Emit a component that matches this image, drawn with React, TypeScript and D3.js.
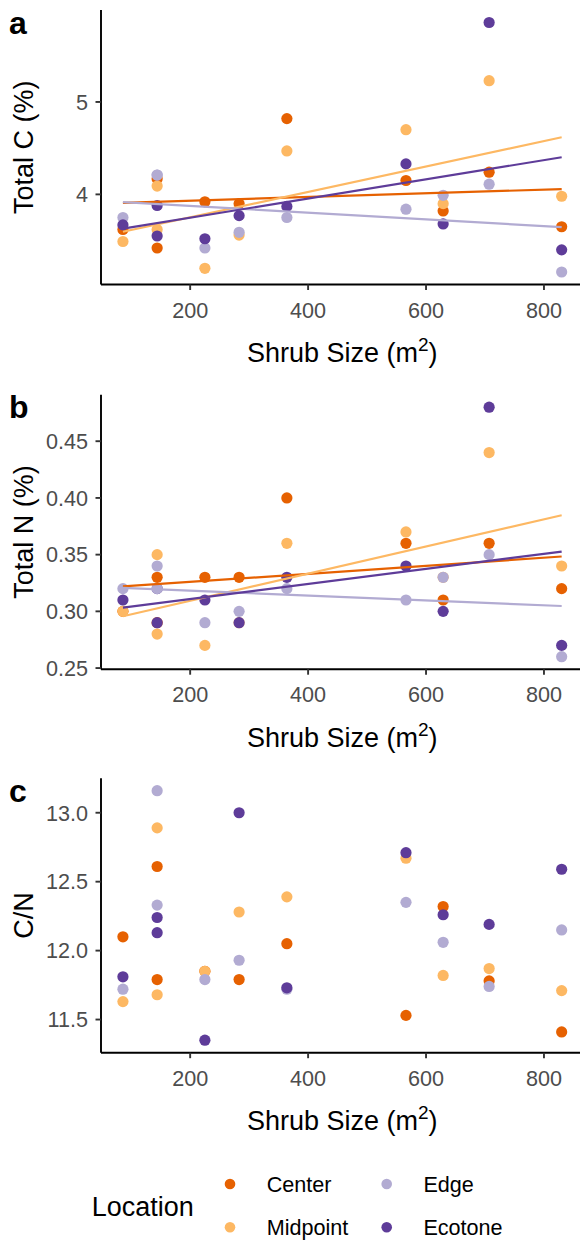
import React from 'react';
import * as d3 from 'd3';

// ---- data ----
const shrubSize = [86, 144, 144, 225, 283, 364, 566, 629, 707, 830];
const locations = ['Center', 'Midpoint', 'Edge', 'Ecotone'];
const locationColors = ['#E66101', '#FDB863', '#B2ABD2', '#5E3C99'];

const totalCCenter = [3.62, 4.17, 3.42, 3.92, 3.90, 4.82, 4.15, 3.82, 4.24, 3.65];
const totalCMidpoint = [3.49, 4.09, 3.62, 3.20, 3.56, 4.47, 4.70, 3.90, 5.23, 3.98];
const totalCEdge = [3.75, 4.21, 4.21, 3.42, 3.59, 3.75, 3.84, 3.99, 4.11, 3.16];
const totalCEcotone = [3.67, 3.88, 3.55, 3.52, 3.77, 3.87, 4.33, 3.68, 5.86, 3.40];

const totalNCenter = [0.30, 0.33, 0.29, 0.33, 0.33, 0.40, 0.36, 0.31, 0.36, 0.32];
const totalNMidpoint = [0.30, 0.35, 0.28, 0.27, 0.29, 0.36, 0.37, 0.33, 0.44, 0.34];
const totalNEdge = [0.32, 0.34, 0.32, 0.29, 0.30, 0.32, 0.31, 0.33, 0.35, 0.26];
const totalNEcotone = [0.31, 0.32, 0.29, 0.31, 0.29, 0.33, 0.34, 0.30, 0.48, 0.27];

const cnCenter = [12.10, 12.61, 11.79, 11.85, 11.79, 12.05, 11.53, 12.32, 11.78, 11.41];
const cnMidpoint = [11.63, 11.68, 12.89, 11.85, 12.28, 12.39, 12.67, 11.82, 11.87, 11.71];
const cnEdge = [11.72, 12.33, 13.16, 11.79, 11.93, 11.72, 12.35, 12.06, 11.74, 12.15];
const cnEcotone = [11.81, 12.13, 12.24, 11.35, 13.00, 11.73, 12.71, 12.26, 12.19, 12.59];

const xTicks = [200, 400, 600, 800];
const yTicksC = [4, 5];
const yTicksN = [0.25, 0.30, 0.35, 0.40, 0.45];
const yTicksCN = [11.5, 12.0, 12.5, 13.0];

// ---- layout ----
const W = 580;
const H = 1240;
const FONT = "'Liberation Sans', Arial, Helvetica, sans-serif";
const panelLeft = 101;
const panelRight = 583.6;
const panelH = 274.5;
const panelTops = [10, 394.7, 778.2];
const BASE = 27;
const SMALL = 21.6;
const TICK_COL = '#4D4D4D';

function expand(vals: number[]): [number, number] {
  const lo = d3.min(vals) as number;
  const hi = d3.max(vals) as number;
  const p = (hi - lo) * 0.05;
  return [lo - p, hi + p];
}

function linFit(xs: number[], ys: number[]) {
  const mx = d3.mean(xs) as number;
  const my = d3.mean(ys) as number;
  let sxy = 0, sxx = 0;
  xs.forEach((x, i) => { sxy += (x - mx) * (ys[i] - my); sxx += (x - mx) * (x - mx); });
  const b = sxy / sxx;
  return { a: my - b * mx, b };
}

const xScale = d3.scaleLinear().domain(expand(shrubSize)).range([panelLeft, panelRight]);

type PanelProps = {
  top: number;
  series: number[][];
  yTicks: number[];
  fmt: (v: number) => string;
  yTitle: string;
  tag: string;
  fit: boolean;
};

function Panel({ top, series, yTicks, fmt, yTitle, tag, fit }: PanelProps) {
  const bottom = top + panelH;
  const y = d3.scaleLinear().domain(expand(series.flat())).range([bottom, top]);
  const xMin = d3.min(shrubSize) as number;
  const xMax = d3.max(shrubSize) as number;
  const cx = (panelLeft + panelRight) / 2;
  return (
    <g>
      <text x={9} y={top + 23.5} fontSize={32} fontWeight="bold" fill="#000">{tag}</text>
      {shrubSize.map((sx, i) =>
        series.map((s, k) => (
          <circle key={`${i}-${k}`} cx={xScale(sx)} cy={y(s[i])} r={5.6} fill={locationColors[k]} />
        ))
      )}
      {fit && series.map((s, k) => {
        const f = linFit(shrubSize, s);
        const path = d3.line<number>().x((d) => xScale(d)).y((d) => y(f.a + f.b * d))([xMin, xMax]) || '';
        return <path key={`f${k}`} d={path} fill="none" stroke={locationColors[k]} strokeWidth={2.2} />;
      })}
      <line x1={panelLeft} x2={panelLeft} y1={top} y2={bottom} stroke="#000" strokeWidth={1.9} />
      <line x1={panelLeft} x2={panelRight} y1={bottom} y2={bottom} stroke="#000" strokeWidth={1.9} />
      {yTicks.map((t) => (
        <g key={`y${t}`}>
          <line x1={panelLeft - 5.5} x2={panelLeft} y1={y(t)} y2={y(t)} stroke="#333" strokeWidth={1.9} />
          <text x={panelLeft - 13} y={y(t)} dy="0.36em" textAnchor="end" fontSize={SMALL} fill={TICK_COL}>{fmt(t)}</text>
        </g>
      ))}
      {xTicks.map((t) => (
        <g key={`x${t}`}>
          <line x1={xScale(t)} x2={xScale(t)} y1={bottom} y2={bottom + 5.5} stroke="#333" strokeWidth={1.9} />
          <text x={xScale(t)} y={bottom + 33} textAnchor="middle" fontSize={SMALL} fill={TICK_COL}>{t}</text>
        </g>
      ))}
      <text x={cx} y={bottom + 77.5} textAnchor="middle" fontSize={BASE} fill="#000">
        Shrub Size (m<tspan fontSize={19} dy={-11}>2</tspan><tspan dy={11}>)</tspan>
      </text>
      <text transform={`translate(32.5,${top + panelH / 2}) rotate(-90)`} textAnchor="middle" fontSize={BASE} fill="#000">{yTitle}</text>
    </g>
  );
}

const legendCols = [230, 386.7];
const legendRows = [1184, 1227.3];

export default function App() {
  return (
    <svg width={W} height={H} viewBox={`0 0 ${W} ${H}`} style={{ position: 'absolute', left: 0, top: 0, background: '#fff' }} fontFamily={FONT}>
      <rect x={0} y={0} width={W} height={H} fill="#fff" />
      <Panel top={panelTops[0]} series={[totalCCenter, totalCMidpoint, totalCEdge, totalCEcotone]} yTicks={yTicksC} fmt={d3.format('d')} yTitle="Total C (%)" tag="a" fit={true} />
      <Panel top={panelTops[1]} series={[totalNCenter, totalNMidpoint, totalNEdge, totalNEcotone]} yTicks={yTicksN} fmt={d3.format('.2f')} yTitle="Total N (%)" tag="b" fit={true} />
      <Panel top={panelTops[2]} series={[cnCenter, cnMidpoint, cnEdge, cnEcotone]} yTicks={yTicksCN} fmt={d3.format('.1f')} yTitle="C/N" tag="c" fit={false} />
      <text x={91.7} y={1215.7} fontSize={BASE} fill="#000">Location</text>
      {locations.map((loc, k) => {
        const col = Math.floor(k / 2);
        const row = k % 2;
        const kx = legendCols[col];
        const ky = legendRows[row];
        return (
          <g key={loc}>
            <circle cx={kx} cy={ky} r={5.3} fill={locationColors[k]} />
            <text x={kx + 36.7} y={ky + 7.7} fontSize={SMALL} fill="#000">{loc}</text>
          </g>
        );
      })}
    </svg>
  );
}
